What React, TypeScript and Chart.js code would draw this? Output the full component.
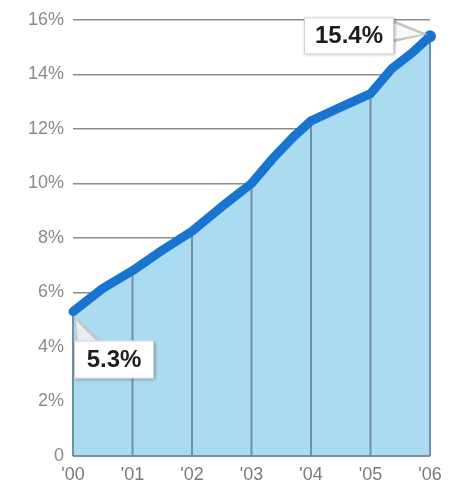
import React, { useEffect, useRef } from "react";
import { Chart, registerables } from "chart.js";

Chart.register(...registerables);

const yearLabels = ["'00", "'01", "'02", "'03", "'04", "'05", "'06"];
const yTickLabels = ["0", "2%", "4%", "6%", "8%", "10%", "12%", "14%", "16%"];
const lineTimes = [0, 0.5, 1, 1.5, 2, 2.5, 3, 3.35, 3.7, 4, 4.5, 5, 5.35, 5.7, 6];
const lineValues = [5.3, 6.15, 6.8, 7.55, 8.25, 9.15, 10.0, 10.9, 11.7, 12.3, 12.8, 13.3, 14.2, 14.8, 15.4];

const FONT = "'Liberation Sans', Arial, sans-serif";

const decoPlugin = {
  id: "deco",
  afterDatasetDraw(chart: any, args: any) {
    if (args.index !== 0) return;
    const ctx = chart.ctx;
    const xs = chart.scales.x;
    const ys = chart.scales.y;
    ctx.save();
    ctx.strokeStyle = "#6f90a6";
    ctx.lineWidth = 2;
    const y0 = ys.getPixelForValue(0);
    lineTimes.forEach((t, i) => {
      if (Math.abs(t - Math.round(t)) > 1e-6) return;
      const px = xs.getPixelForValue(t);
      ctx.beginPath();
      ctx.moveTo(px, y0);
      ctx.lineTo(px, ys.getPixelForValue(lineValues[i]));
      ctx.stroke();
    });
    ctx.beginPath();
    ctx.moveTo(xs.getPixelForValue(0), y0);
    ctx.lineTo(xs.getPixelForValue(6), y0);
    ctx.stroke();
    ctx.restore();
  },
  afterDatasetsDraw(chart: any) {
    const ctx = chart.ctx;
    const xs = chart.scales.x;
    const ys = chart.scales.y;
    const n = lineValues.length;
    const p0x = xs.getPixelForValue(lineTimes[0]);
    const p0y = ys.getPixelForValue(lineValues[0]);
    const p1x = xs.getPixelForValue(lineTimes[n - 1]);
    const p1y = ys.getPixelForValue(lineValues[n - 1]);

    const drawBox = (x: number, y: number, w: number, h: number, text: string) => {
      ctx.save();
      ctx.shadowColor = "rgba(0,0,0,0.35)";
      ctx.shadowBlur = 3;
      ctx.shadowOffsetX = 1;
      ctx.shadowOffsetY = 1;
      ctx.fillStyle = "#ffffff";
      ctx.fillRect(x, y, w, h);
      ctx.restore();
      ctx.save();
      ctx.strokeStyle = "#d0d0d0";
      ctx.lineWidth = 1;
      ctx.strokeRect(x + 0.5, y + 0.5, w - 1, h - 1);
      ctx.fillStyle = "#1e1e1e";
      ctx.font = `bold 24px ${FONT}`;
      ctx.textAlign = "center";
      ctx.textBaseline = "middle";
      ctx.fillText(text, x + w / 2, y + h / 2 + 1);
      ctx.restore();
    };

    // pointer for first value
    ctx.save();
    ctx.fillStyle = "rgba(195,200,205,0.85)";
    ctx.beginPath();
    ctx.moveTo(p0x + 1, p0y + 4);
    ctx.lineTo(p0x + 3, p0y + 30);
    ctx.lineTo(p0x + 30, p0y + 30);
    ctx.closePath();
    ctx.fill();
    ctx.fillStyle = "rgba(235,240,245,0.9)";
    ctx.beginPath();
    ctx.moveTo(p0x + 3, p0y + 9);
    ctx.lineTo(p0x + 5, p0y + 30);
    ctx.lineTo(p0x + 24, p0y + 30);
    ctx.closePath();
    ctx.fill();
    ctx.restore();
    drawBox(p0x + 1, p0y + 29, 80, 38, lineValues[0].toFixed(1) + "%");

    // pointer for last value
    ctx.save();
    ctx.fillStyle = "rgba(190,190,190,0.9)";
    ctx.beginPath();
    ctx.moveTo(p1x - 36, p1y - 16);
    ctx.lineTo(p1x - 2, p1y - 2);
    ctx.lineTo(p1x - 36, p1y + 6);
    ctx.closePath();
    ctx.fill();
    ctx.fillStyle = "rgba(248,248,248,1)";
    ctx.beginPath();
    ctx.moveTo(p1x - 36, p1y - 13);
    ctx.lineTo(p1x - 8, p1y - 2);
    ctx.lineTo(p1x - 36, p1y + 3);
    ctx.closePath();
    ctx.fill();
    ctx.restore();
    drawBox(p1x - 126, p1y - 19, 90, 37, lineValues[n - 1].toFixed(1) + "%");
  },
};

export default function App() {
  const ref = useRef<HTMLCanvasElement | null>(null);
  useEffect(() => {
    document.body.style.margin = "0";
    const canvas = ref.current;
    if (!canvas) return;
    const pts = lineTimes.map((t, i) => ({ x: t, y: lineValues[i] }));
    const chart = new Chart(canvas, {
      type: "line",
      data: {
        datasets: [
          {
            data: pts,
            order: 2,
            borderWidth: 0,
            borderColor: "rgba(0,0,0,0)",
            backgroundColor: "#aadbf1",
            fill: "origin",
            pointRadius: 0,
            tension: 0,
          },
          {
            data: pts,
            order: 1,
            borderWidth: 9,
            borderColor: "#1874d0",
            backgroundColor: "#1874d0",
            borderCapStyle: "round",
            borderJoinStyle: "round",
            fill: false,
            tension: 0,
            clip: false,
            pointRadius: (c: any) => (c.dataIndex === lineValues.length - 1 ? 6 : 0),
            pointBorderWidth: 0,
          },
        ],
      },
      options: {
        responsive: false,
        animation: false,
        events: [],
        layout: { padding: { left: 0, right: 22, top: 20, bottom: 0 } },
        plugins: {
          legend: { display: false },
          tooltip: { enabled: false },
          title: { display: false },
        },
        scales: {
          x: {
            type: "linear",
            min: 0,
            max: 6,
            grid: { display: false, drawTicks: false },
            border: { display: false },
            ticks: {
              stepSize: 1,
              padding: 8,
              color: "#7a7a7a",
              font: { family: FONT, size: 18 },
              maxRotation: 0,
              callback: (v: any) => yearLabels[Math.round(Number(v))] ?? "",
            },
            afterFit: (s: any) => {
              s.height = 29;
            },
          },
          y: {
            min: 0,
            max: 16,
            grid: { color: "#8c8c8c", lineWidth: 1.5, drawTicks: false },
            border: { display: false },
            ticks: {
              stepSize: 2,
              padding: 9,
              color: "#8a8a8a",
              font: { family: FONT, size: 18 },
              callback: (v: any) => yTickLabels[Math.round(Number(v) / 2)] ?? "",
            },
            afterFit: (s: any) => {
              s.width = 73;
            },
          },
        },
      },
      plugins: [decoPlugin],
    } as any);
    return () => chart.destroy();
  }, []);
  return (
    <div style={{ width: 452, height: 485, background: "#fff" }}>
      <canvas ref={ref} width={452} height={485} style={{ display: "block" }} />
    </div>
  );
}
